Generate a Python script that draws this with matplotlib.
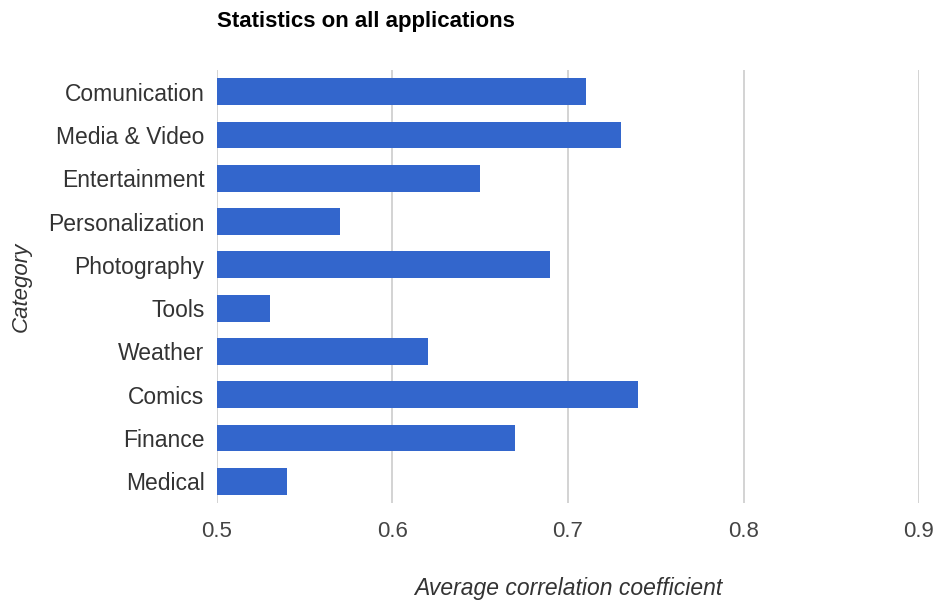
import matplotlib
matplotlib.use("Agg")
import matplotlib.pyplot as plt

categories = ["Comunication", "Media & Video", "Entertainment", "Personalization",
              "Photography", "Tools", "Weather", "Comics", "Finance", "Medical"]
values = [0.71, 0.73, 0.65, 0.57, 0.69, 0.53, 0.62, 0.74, 0.67, 0.54]
x_ticks = [0.5, 0.6, 0.7, 0.8, 0.9]

plt.rcParams["font.family"] = ["Liberation Sans", "DejaVu Sans"]

fig = plt.figure(figsize=(9.37, 6.02), dpi=100)
ax = fig.add_axes([217 / 937, 1 - 503 / 602, (919 - 217) / 937, (503 - 70) / 602])

ypos = list(range(len(categories)))
ax.barh(ypos, [v - 0.5 for v in values], left=0.5, height=0.62,
        color="#3366CC", zorder=3)

ax.set_xlim(0.5, 0.9)
ax.set_ylim(len(categories) - 0.5, -0.5)
ax.set_xticks(x_ticks)
ax.set_xticklabels([f"{t:.1f}" for t in x_ticks])
ax.set_yticks(ypos)
ax.set_yticklabels(categories)

ax.grid(axis="x", color="#CCCCCC", linewidth=1.2, zorder=0)
for s in ax.spines.values():
    s.set_visible(False)
ax.tick_params(axis="both", length=0)
ax.tick_params(axis="y", labelsize=16.5, labelcolor="#333333", pad=9)
ax.tick_params(axis="x", labelsize=16, labelcolor="#444444", pad=13)

# x-axis title placed in figure coordinates, centred under the plot area
fig.text((217 + 919) / 2 / 937, 1 - 588 / 602, "Average correlation coefficient",
         fontsize=16.5, style="italic", color="#333333", ha="center", va="center")
ax.set_ylabel("Category", fontsize=16, style="italic", color="#333333", labelpad=12)

fig.text(217 / 937, 1 - 22 / 602, "Statistics on all applications", fontsize=16,
         fontweight="bold", color="#000000", va="center", ha="left")

fig.savefig("out.png", dpi=100)
